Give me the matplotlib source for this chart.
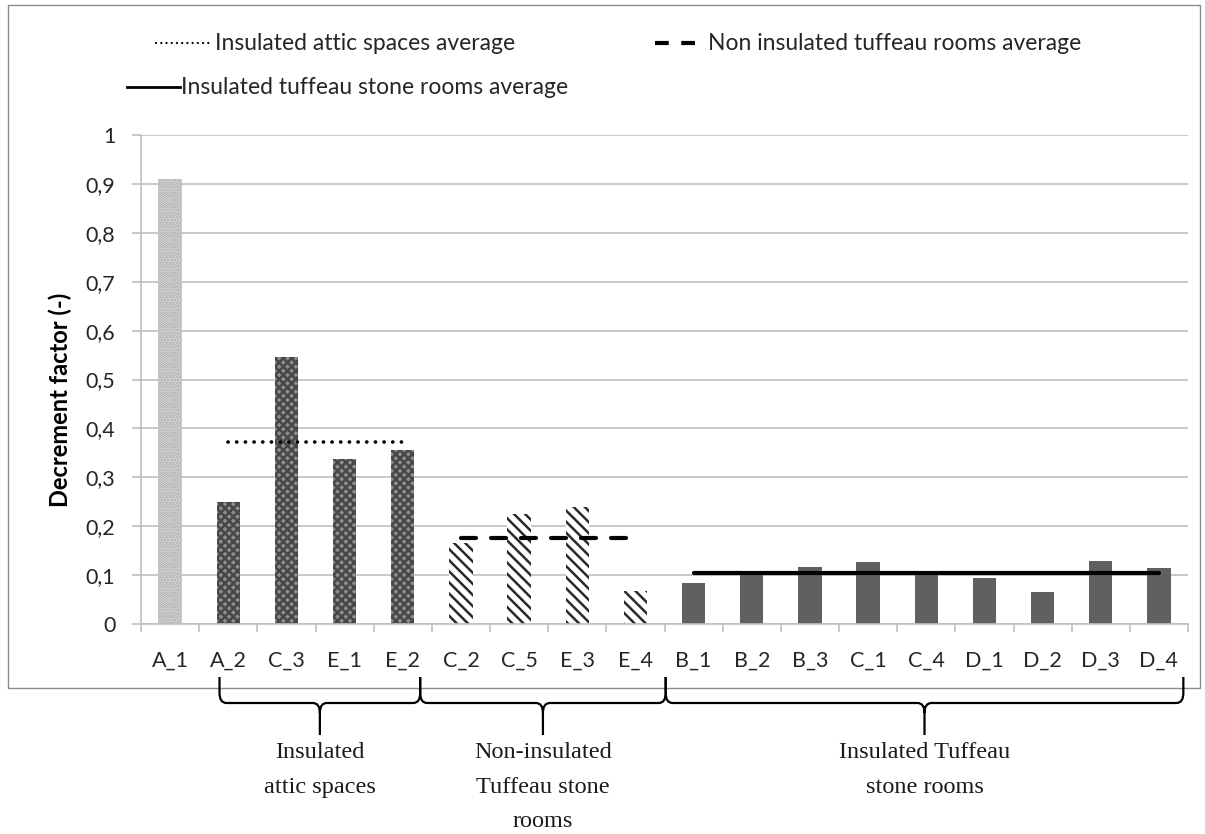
import matplotlib
matplotlib.use("Agg")
import matplotlib.pyplot as plt
from matplotlib.path import Path
from matplotlib.patches import PathPatch, Rectangle
from matplotlib.lines import Line2D
from matplotlib.transforms import blended_transform_factory

# ---------------- data ----------------
categories = ["A_1", "A_2", "C_3", "E_1", "E_2",
              "C_2", "C_5", "E_3", "E_4",
              "B_1", "B_2", "B_3", "C_1", "C_4", "D_1", "D_2", "D_3", "D_4"]
values = [0.91, 0.25, 0.547, 0.337, 0.356,
          0.165, 0.225, 0.239, 0.068,
          0.084, 0.103, 0.117, 0.126, 0.102, 0.094, 0.066, 0.128, 0.115]
groups = ["ref", "attic", "attic", "attic", "attic",
          "noins", "noins", "noins", "noins",
          "ins", "ins", "ins", "ins", "ins", "ins", "ins", "ins", "ins"]

avg_attic = 0.373
avg_noins = 0.175
avg_ins = 0.104

legend_labels = ["Insulated attic spaces average",
                 "Non insulated tuffeau rooms average",
                 "Insulated tuffeau stone rooms average"]
group_labels = ["Insulated\nattic spaces",
                "Non-insulated\nTuffeau stone\nrooms",
                "Insulated Tuffeau\nstone rooms"]
y_label = "Decrement factor (-)"
yticks = [0, 0.1, 0.2, 0.3, 0.4, 0.5, 0.6, 0.7, 0.8, 0.9, 1.0]
ytick_labels = ["0", "0,1", "0,2", "0,3", "0,4", "0,5", "0,6", "0,7", "0,8", "0,9", "1"]

# ---------------- figure ----------------
W, H = 1205, 834
plt.rcParams['font.family'] = ['Lato', 'DejaVu Sans']
plt.rcParams['hatch.linewidth'] = 1.8
fig = plt.figure(figsize=(W / 100, H / 100), dpi=100)

def fx(px):
    return px / W

def fy(py):
    return 1 - py / H

# outer chart frame
fig.patches.append(Rectangle((fx(8), fy(688)), fx(1200) - fx(8), fy(5) - fy(688),
                             transform=fig.transFigure, fill=False,
                             edgecolor="#8c8c8c", linewidth=1.0, zorder=0))

ax = fig.add_axes([fx(141), fy(624), fx(1188) - fx(141), fy(135) - fy(624)])
ax.set_facecolor("none")

styles = {
    "ref":   dict(color="#e3e3e3", edgecolor="#a8a8a8", hatch="....."),
    "attic": dict(color="#8e8e8e", edgecolor="#474747", hatch="xxxx"),
    "noins": dict(color="white", edgecolor="#2a2a2a", hatch="\\\\\\"),
    "ins":   dict(color="#606060", edgecolor="#606060", hatch=None),
}
x = list(range(len(categories)))
for xi, v, g in zip(x, values, groups):
    st = styles[g]
    ax.bar(xi, v, width=0.4, color=st["color"], edgecolor=st["edgecolor"],
           hatch=st["hatch"], linewidth=0, zorder=2)

# averages
idx_attic = [i for i, g in enumerate(groups) if g == "attic"]
idx_noins = [i for i, g in enumerate(groups) if g == "noins"]
idx_ins = [i for i, g in enumerate(groups) if g == "ins"]
ax.plot([idx_attic[0], idx_attic[-1]], [avg_attic, avg_attic], color="black",
        linewidth=2.6, linestyle=(0, (0.05, 2.35)), dash_capstyle="round", zorder=3)
ax.plot([idx_noins[0], idx_noins[-1]], [avg_noins, avg_noins], color="black",
        linewidth=3.0, linestyle=(0, (3.6, 3.6)), dash_capstyle="round", zorder=3)
ax.plot([idx_ins[0], idx_ins[-1]], [avg_ins, avg_ins], color="black",
        linewidth=3.0, solid_capstyle="round", zorder=3)

# axes styling
ax.set_xlim(-0.5, len(categories) - 0.5)
ax.set_ylim(0, 1)
ax.set_yticks(yticks)
ax.set_yticklabels(ytick_labels, fontsize=15.5, color="#262626")
ax.yaxis.grid(True, color="#bfbfbf", linewidth=1.2, zorder=0)
ax.set_axisbelow(True)
ax.set_xticks(x)
ax.set_xticklabels(categories, fontsize=15.5, color="#262626")
ax.set_xticks([i - 0.5 for i in range(len(categories) + 1)], minor=True)
ax.tick_params(axis="x", which="major", length=0, pad=19.5)
ax.tick_params(axis="x", which="minor", length=6, width=1.2, color="#bfbfbf", direction="out")
ax.tick_params(axis="y", length=6.5, width=1.2, color="#bfbfbf", pad=12)
for s in ["top", "right"]:
    ax.spines[s].set_visible(False)
for s in ["left", "bottom"]:
    ax.spines[s].set_color("#bfbfbf")
    ax.spines[s].set_linewidth(1.2)

# y-axis title (placed like the original, slightly below the axis centre)
fig.text(fx(60), fy(400), y_label, rotation=90, ha="center", va="center",
         fontsize=17, fontweight="bold", color="black")

# legend drawn manually
def legend_entry(x0, x1, y, tx, label, **kw):
    fig.lines.append(Line2D([fx(x0), fx(x1)], [fy(y), fy(y)], transform=fig.transFigure,
                            color="black", **kw))
    fig.text(fx(tx), fy(y), label, ha="left", va="center", fontsize=16.5, color="#262626")

legend_entry(156, 210, 43, 215, legend_labels[0], linewidth=1.6,
             linestyle=(0, (0.05, 2.3)), dash_capstyle="round")
legend_entry(655, 700, 43, 708, legend_labels[1], linewidth=3.0,
             linestyle=(0, (3.3, 3.0)), dash_capstyle="butt")
legend_entry(127, 180, 87, 181, legend_labels[2], linewidth=2.0)

# curly brackets below the axis
bt = blended_transform_factory(ax.transData, fig.transFigure)

def bracket(xl, xr, xm, label):
    top, mid, tip = fy(677), fy(703), fy(735)
    r = 0.12
    rv = fy(703) - fy(713)
    verts = [(xl, top), (xl, mid + rv), (xl, mid), (xl + r, mid),
             (xm - r, mid), (xm, mid), (xm, mid - rv), (xm, tip),
             (xm, mid - rv), (xm, mid), (xm + r, mid),
             (xr - r, mid), (xr, mid), (xr, mid + rv), (xr, top)]
    codes = [Path.MOVETO, Path.LINETO, Path.CURVE3, Path.CURVE3,
             Path.LINETO, Path.CURVE3, Path.CURVE3, Path.LINETO,
             Path.MOVETO, Path.CURVE3, Path.CURVE3,
             Path.LINETO, Path.CURVE3, Path.CURVE3, Path.LINETO]
    fig.patches.append(PathPatch(Path(verts, codes), transform=bt, fill=False,
                                 edgecolor="black", linewidth=1.6))
    fig.text(xm, fy(742), label, transform=bt, ha="center", va="top",
             fontsize=17.5, family=["Liberation Serif"], linespacing=1.85, color="#1a1a1a")

bracket(idx_attic[0] - 0.15, idx_attic[-1] + 0.3, (idx_attic[0] - 0.15 + idx_attic[-1] + 0.3) / 2,
        group_labels[0])
bracket(idx_noins[0] - 0.7, idx_noins[-1] + 0.52, (idx_noins[0] - 0.7 + idx_noins[-1] + 0.52) / 2,
        group_labels[1])
bracket(idx_ins[0] - 0.48, idx_ins[-1] + 0.42, (idx_ins[0] - 0.48 + idx_ins[-1] + 0.42) / 2,
        group_labels[2])

fig.savefig("out.png", dpi=100)
